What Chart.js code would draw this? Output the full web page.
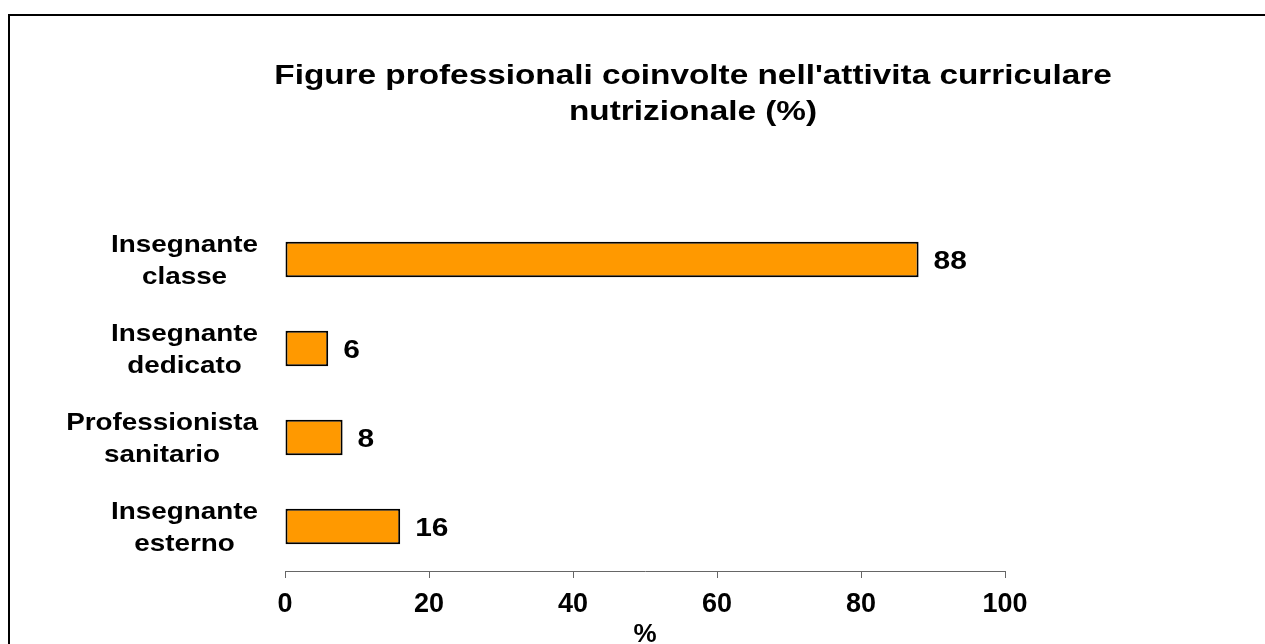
<!doctype html>
<html lang="it">

<head>
  <meta charset="utf-8">
  <title>Figure professionali</title>
  <script src="https://cdn.jsdelivr.net/npm/chart.js"></script>
  <style>
    body { margin: 0; background: #fff; overflow: hidden; }
    #wrap { position: relative; width: 1265px; height: 644px; }
    /* cornice del grafico (solo lato sinistro e superiore visibili) */
    #frame { position: absolute; left: 8px; top: 14px; width: 1300px; height: 700px;
      border-top: 2px solid #000; border-left: 2px solid #000; }
    canvas { position: absolute; left: 0; top: 0; }
  </style>
</head>

<body>
  <div id="wrap">
    <div id="frame"></div>
    <canvas id="figureChart"></canvas>
  </div>

  <script>
    // dati
    const titleLines = ["Figure professionali coinvolte nell'attivita curriculare", "nutrizionale (%)"];
    const categories = [["Insegnante", "classe"], ["Insegnante", "dedicato"], ["Professionista", "sanitario"], ["Insegnante", "esterno"]];
    const values = [88, 6, 8, 16];
    const xTicks = [0, 20, 40, 60, 80, 100];
    const axisTitle = "%";

    const fontFamily = '"Liberation Sans", Arial, sans-serif';

    // testo leggermente allargato in orizzontale, come nell'originale
    function stretchText(ctx, text, x, y, align, sx) {
      ctx.save();
      ctx.translate(x, y);
      ctx.scale(sx, 1);
      ctx.textAlign = align;
      ctx.textBaseline = 'alphabetic';
      ctx.fillText(text, 0, 0);
      ctx.restore();
    }

    const testiPlugin = {
      id: 'testi',
      afterDatasetsDraw(chart) {
        const ctx = chart.ctx;
        const area = chart.chartArea;
        const bars = chart.getDatasetMeta(0).data;
        ctx.save();
        ctx.fillStyle = '#000';

        // titolo (spostato a destra rispetto al centro dell'area)
        ctx.font = 'bold 28px ' + fontFamily;
        const tx = (area.left + area.right) / 2 + 48;
        titleLines.forEach((t, i) => stretchText(ctx, t, tx, 84 + i * 36, 'center', 1.19));

        // etichette delle categorie
        const sx = 1.16;
        ctx.font = 'bold 24px ' + fontFamily;
        bars.forEach((bar, i) => {
          const lines = categories[i];
          const w = Math.max(...lines.map(l => ctx.measureText(l).width * sx));
          const cx = area.left - 27 - w / 2;
          lines.forEach((l, j) => stretchText(ctx, l, cx, bar.y - 7.5 + j * 32, 'center', sx));
        });

        // valori accanto alle barre
        ctx.font = 'bold 26px ' + fontFamily;
        bars.forEach((bar, i) => {
          stretchText(ctx, String(values[i]), bar.x + 15, bar.y + 9, 'left', 1.15);
        });
        ctx.restore();
      }
    };

    const data = {
      labels: categories,
      datasets: [{
        data: values,
        backgroundColor: '#FF9900',
        borderColor: '#000',
        borderWidth: 2,
        borderSkipped: false,
        categoryPercentage: 1,
        barPercentage: 0.4
      }]
    };

    const config = {
      type: 'bar',
      data,
      plugins: [testiPlugin],
      options: {
        indexAxis: 'y',
        responsive: true,
        maintainAspectRatio: false,
        animation: false,
        layout: { padding: { top: 215, left: 285, right: 260, bottom: 0 } },
        plugins: {
          legend: { display: false },
          title: { display: false },
          tooltip: { enabled: false }
        },
        scales: {
          y: { display: false },
          x: {
            min: xTicks[0],
            max: xTicks[xTicks.length - 1],
            afterFit: s => { s.height = 73; },
            border: { display: true, color: '#666', width: 1 },
            grid: { drawOnChartArea: false, drawTicks: true, tickLength: 7, color: '#666' },
            ticks: {
              stepSize: xTicks[1] - xTicks[0],
              color: '#000',
              padding: 10,
              font: { family: fontFamily, size: 27, weight: 'bold' }
            },
            title: {
              display: true,
              text: axisTitle,
              color: '#000',
              padding: { top: 0, bottom: -6 },
              font: { family: fontFamily, size: 26, weight: 'bold' }
            }
          }
        }
      }
    };

    new Chart(document.getElementById('figureChart'), config);
  </script>
</body>

</html>
